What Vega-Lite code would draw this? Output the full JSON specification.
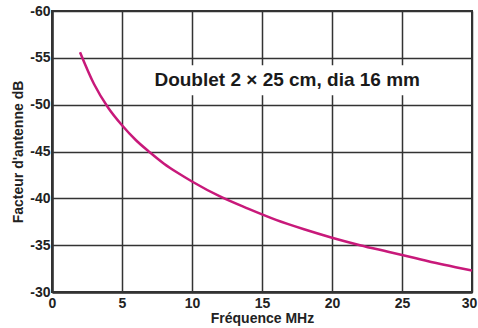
{
  "$schema": "https://vega.github.io/schema/vega-lite/v6.json",
  "width": 420,
  "height": 281,
  "autosize": "none",
  "padding": {"left": 52, "top": 11, "right": 6, "bottom": 36},
  "background": "white",
  "config": {
    "view": {"stroke": "#333333", "strokeWidth": 2},
    "font": "Liberation Sans"
  },
  "datasets": {
    "curve": [
      {"f": 2, "af": -55.6},
      {"f": 3, "af": -52.2},
      {"f": 4, "af": -49.7},
      {"f": 5, "af": -47.8},
      {"f": 6, "af": -46.2},
      {"f": 7, "af": -44.9},
      {"f": 8, "af": -43.7},
      {"f": 9, "af": -42.7},
      {"f": 10, "af": -41.8},
      {"f": 12, "af": -40.2},
      {"f": 14, "af": -38.9},
      {"f": 16, "af": -37.7},
      {"f": 18, "af": -36.7},
      {"f": 20, "af": -35.8},
      {"f": 22, "af": -35.0},
      {"f": 24, "af": -34.3},
      {"f": 26, "af": -33.6},
      {"f": 28, "af": -32.9},
      {"f": 30, "af": -32.3}
    ],
    "label": [
      {"x1": 6.6, "x2": 27.4, "y1": -54.2, "y2": -51.0, "tx": 16.8, "ty": -52.6, "text": "Doublet 2 × 25 cm, dia 16 mm"}
    ]
  },
  "layer": [
    {
      "data": {"name": "label"},
      "mark": {"type": "rect", "fill": "white"},
      "encoding": {
        "x": {"field": "x1", "type": "quantitative", "scale": {"domain": [0, 30], "nice": false},
          "axis": {"values": [0, 5, 10, 15, 20, 25, 30], "title": "Fréquence MHz", "grid": true, "gridColor": "#333333", "gridWidth": 1.5, "gridOpacity": 1,
            "domainColor": "#333333", "domainWidth": 2.5, "ticks": false, "labelPadding": 4, "labelFontSize": 14, "labelFontWeight": "bold", "labelColor": "#222222",
            "labelOffset": {"condition": {"test": "datum.value === 30", "value": -3}, "value": 0},
            "labelFlush": false, "labelBound": false, "labelOverlap": false,
            "titleFontSize": 14, "titleFontWeight": "bold", "titleColor": "#222222", "titlePadding": 1}},
        "x2": {"field": "x2"},
        "y": {"field": "y1", "type": "quantitative", "scale": {"domain": [-60, -30], "reverse": true, "nice": false},
          "axis": {"values": [-60, -55, -50, -45, -40, -35, -30], "title": "Facteur d'antenne dB", "grid": true, "gridColor": "#333333", "gridWidth": 1.5, "gridOpacity": 1,
            "labelExpr": "'' + datum.value",
            "domainColor": "#333333", "domainWidth": 2.5, "ticks": false, "labelPadding": 2, "labelFontSize": 14, "labelFontWeight": "bold", "labelColor": "#222222",
            "labelFlush": false, "labelBound": false, "labelOverlap": false,
            "titleFontSize": 14, "titleFontWeight": "bold", "titleColor": "#222222", "titlePadding": 4}},
        "y2": {"field": "y2"}
      }
    },
    {
      "data": {"name": "label"},
      "mark": {"type": "text", "fontSize": 19, "fontWeight": "bold", "font": "Liberation Sans", "color": "#1a1a1a", "align": "center", "baseline": "middle"},
      "encoding": {
        "x": {"field": "tx", "type": "quantitative"},
        "y": {"field": "ty", "type": "quantitative"},
        "text": {"field": "text"}
      }
    },
    {
      "data": {"name": "curve"},
      "mark": {"type": "line", "color": "#c8197a", "strokeWidth": 2.5, "interpolate": "monotone"},
      "encoding": {
        "x": {"field": "f", "type": "quantitative"},
        "y": {"field": "af", "type": "quantitative"}
      }
    }
  ]
}
